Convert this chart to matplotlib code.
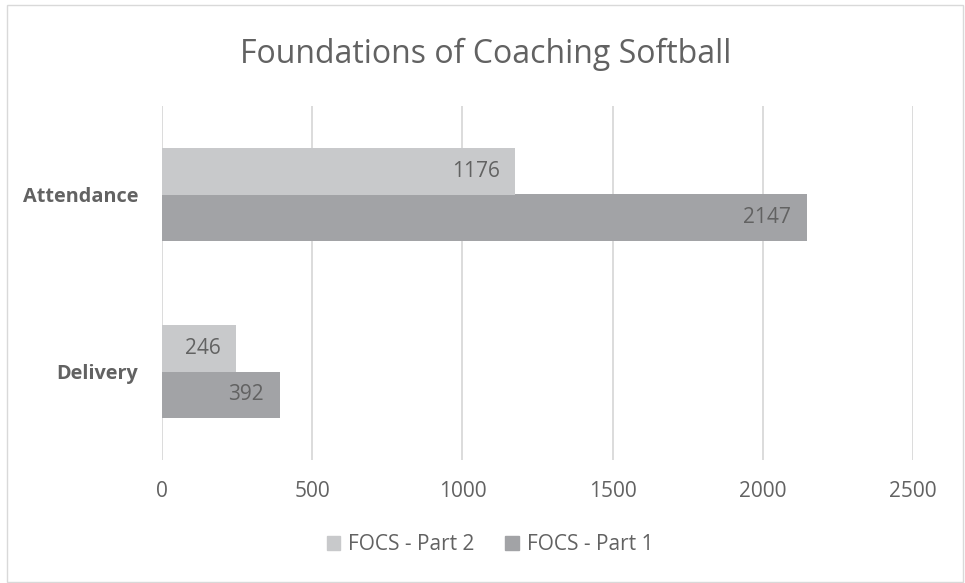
import matplotlib
matplotlib.use("Agg")
import matplotlib.pyplot as plt
import matplotlib.patches as mpatches
import numpy as np

# data
categories = ["Delivery", "Attendance"]
part1 = [392, 2147]
part2 = [246, 1176]
series_names = ["FOCS - Part 2", "FOCS - Part 1"]
xticks = [0, 500, 1000, 1500, 2000, 2500]

LIGHT = "#c8c9cb"
DARK = "#a2a3a6"
TXT = "#626262"
GRID = "#d9d9d9"

plt.rcParams["font.family"] = ["Open Sans", "DejaVu Sans"]

W, H = 965, 583
fig = plt.figure(figsize=(W / 100, H / 100), dpi=100)
fig.patch.set_facecolor("white")

# plot area in pixels: left 162, right 913, top 106, bottom 460
ax = fig.add_axes([162 / W, 1 - 460 / H, (913 - 162) / W, (460 - 106) / H])

y = np.arange(len(categories))
h = 0.26
ax.barh(y - h / 2, part1, height=h, color=DARK, label=series_names[1], zorder=3)
ax.barh(y + h / 2, part2, height=h, color=LIGHT, label=series_names[0], zorder=3)

# data labels, inside end
for yi, v in zip(y - h / 2, part1):
    ax.text(v - 52, yi, str(v), ha="right", va="center", color=TXT, fontsize=15, zorder=4)
for yi, v in zip(y + h / 2, part2):
    ax.text(v - 52, yi, str(v), ha="right", va="center", color=TXT, fontsize=15, zorder=4)

ax.set_xlim(0, 2500)
ax.set_ylim(-0.5, 1.5)
ax.set_xticks(xticks)
ax.set_xticklabels([str(t) for t in xticks], color=TXT, fontsize=15)
ax.set_yticks(y)
ax.set_yticklabels(categories, color=TXT, fontsize=14.3, fontweight="bold")
ax.tick_params(axis="both", length=0)
ax.tick_params(axis="x", pad=15)
ax.tick_params(axis="y", pad=17)
ax.grid(axis="x", color=GRID, linewidth=1.3, zorder=0)
for s in ax.spines.values():
    s.set_visible(False)

fig.text(485.5 / W, 1 - 63 / H, "Foundations of Coaching Softball", ha="center", va="baseline",
         color=TXT, fontsize=23)

handles = [mpatches.Patch(color=LIGHT), mpatches.Patch(color=DARK)]
fig.legend(handles, series_names, loc="center", bbox_to_anchor=(490 / W, 1 - 545 / H),
           ncol=2, frameon=False, fontsize=15, labelcolor=TXT,
           handlelength=0.65, handleheight=0.65, handletextpad=0.4, columnspacing=1.45)

# chart border
fig.add_artist(mpatches.Rectangle((7 / W, 1 - 582 / H), (963 - 7) / W, (582 - 5) / H,
                                  transform=fig.transFigure, fill=False,
                                  edgecolor=GRID, linewidth=1))

fig.savefig("out.png", dpi=100)
